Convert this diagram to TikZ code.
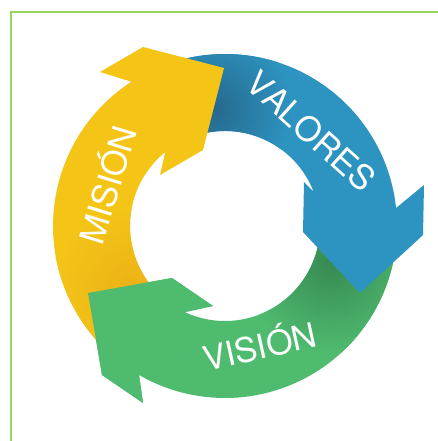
\documentclass[tikz,border=0pt]{standalone}
\usepackage{fontspec}
\usepackage{xcolor}

\newfontfamily\ringfont{TeX Gyre Heros}[Kerning=Off]

\definecolor{misionyellow}{RGB}{244,197,23}
\definecolor{misiondark}{RGB}{236,178,22}
\definecolor{valoresblue}{RGB}{45,148,193}
\definecolor{valoresdark}{RGB}{38,104,140}
\definecolor{visiongreen}{RGB}{79,187,111}
\definecolor{visiondark}{RGB}{55,138,82}
\definecolor{framegreen}{RGB}{152,212,96}

\tikzset{
    ringtext/.style={text=white, inner sep=0pt, text height=24.4pt, text depth=0pt, font=\ringfont\fontsize{34}{34}\selectfont}
}

\begin{document}
\begin{tikzpicture}[x=1pt, y=1pt]

    \useasboundingbox (0,0) rectangle (438,441);
    \clip (0,0) rectangle (438,441);
    \fill[white] (0,0) rectangle (438,441);

    % Frame
    \draw[framegreen, line width=2pt] (11,429) rectangle (460,-20);

    \coordinate (C) at (225,215);

    % Head of the yellow arrow
    \coordinate (m1) at (100,369);
    \coordinate (m2) at (143,394);
    \coordinate (m3) at (224,373);
    \coordinate (m4) at (203,291);
    \coordinate (m5) at (160,266);

    % Head of the blue arrow
    \coordinate (v1) at (424,256);
    \coordinate (v2) at (423,206);
    \coordinate (v3) at (360,148);
    \coordinate (v4) at (303,209);
    \coordinate (v5) at (304,259);

    % Head of the green arrow
    \coordinate (s1) at (143,38);
    \coordinate (s2) at (102,66);
    \coordinate (s3) at (88,148);
    \coordinate (s4) at (172,163);
    \coordinate (s5) at (213,135);


    % Green arrow
    \begin{scope}
        \clip ([shift={(-8:172)}]C) arc[start angle=-8, end angle=-120, radius=172]
            -- (s1) -- (s2) -- (s3) -- (s4) -- (s5)
            -- ([shift={(-115:95)}]C) arc[start angle=-115, end angle=-8, radius=95] -- cycle;
        \fill[visiongreen] (0,0) rectangle (438,441);
        \shade[inner color=visiondark, outer color=visiongreen] (331,178) circle (90);
    \end{scope}

    % Blue arrow
    \begin{scope}
        \clip ([shift={(106:172)}]C) arc[start angle=106, end angle=6, radius=172]
            -- (v1) -- (v2) -- (v3) -- (v4) -- (v5)
            -- ([shift={(21:95)}]C) arc[start angle=21, end angle=106, radius=95] -- cycle;
        \fill[valoresblue] (0,0) rectangle (438,441);
        \shade[inner color=valoresdark, outer color=valoresblue] (213,332) circle (80);
    \end{scope}

    % Yellow arrow
    \begin{scope}
        \clip ([shift={(228:172)}]C) arc[start angle=228, end angle=123, radius=172]
            -- (m1) -- (m2) -- (m3) -- (m4) -- (m5)
            -- ([shift={(129:95)}]C) arc[start angle=129, end angle=228, radius=95] -- cycle;
        \fill[misionyellow] (0,0) rectangle (438,441);
        \shade[inner color=misiondark, outer color=misionyellow] (130,155) circle (80);
    \end{scope}

    % Green head again, over the yellow tail
    \fill[visiongreen] ([shift={(-120:172)}]C) -- (s1) -- (s2) -- (s3) -- (s4) -- (s5)
        -- ([shift={(-115:95)}]C) -- cycle;


    % Labels
    \node[ringtext, rotate=73] (mision) at (108.5,256) {MISIÓN};
    \node[ringtext, rotate=-42] (valores) at (311,310) {VALORES};
    \node[ringtext, rotate=12.5] (vision) at (260,94) {VISIÓN};

\end{tikzpicture}
\end{document}
